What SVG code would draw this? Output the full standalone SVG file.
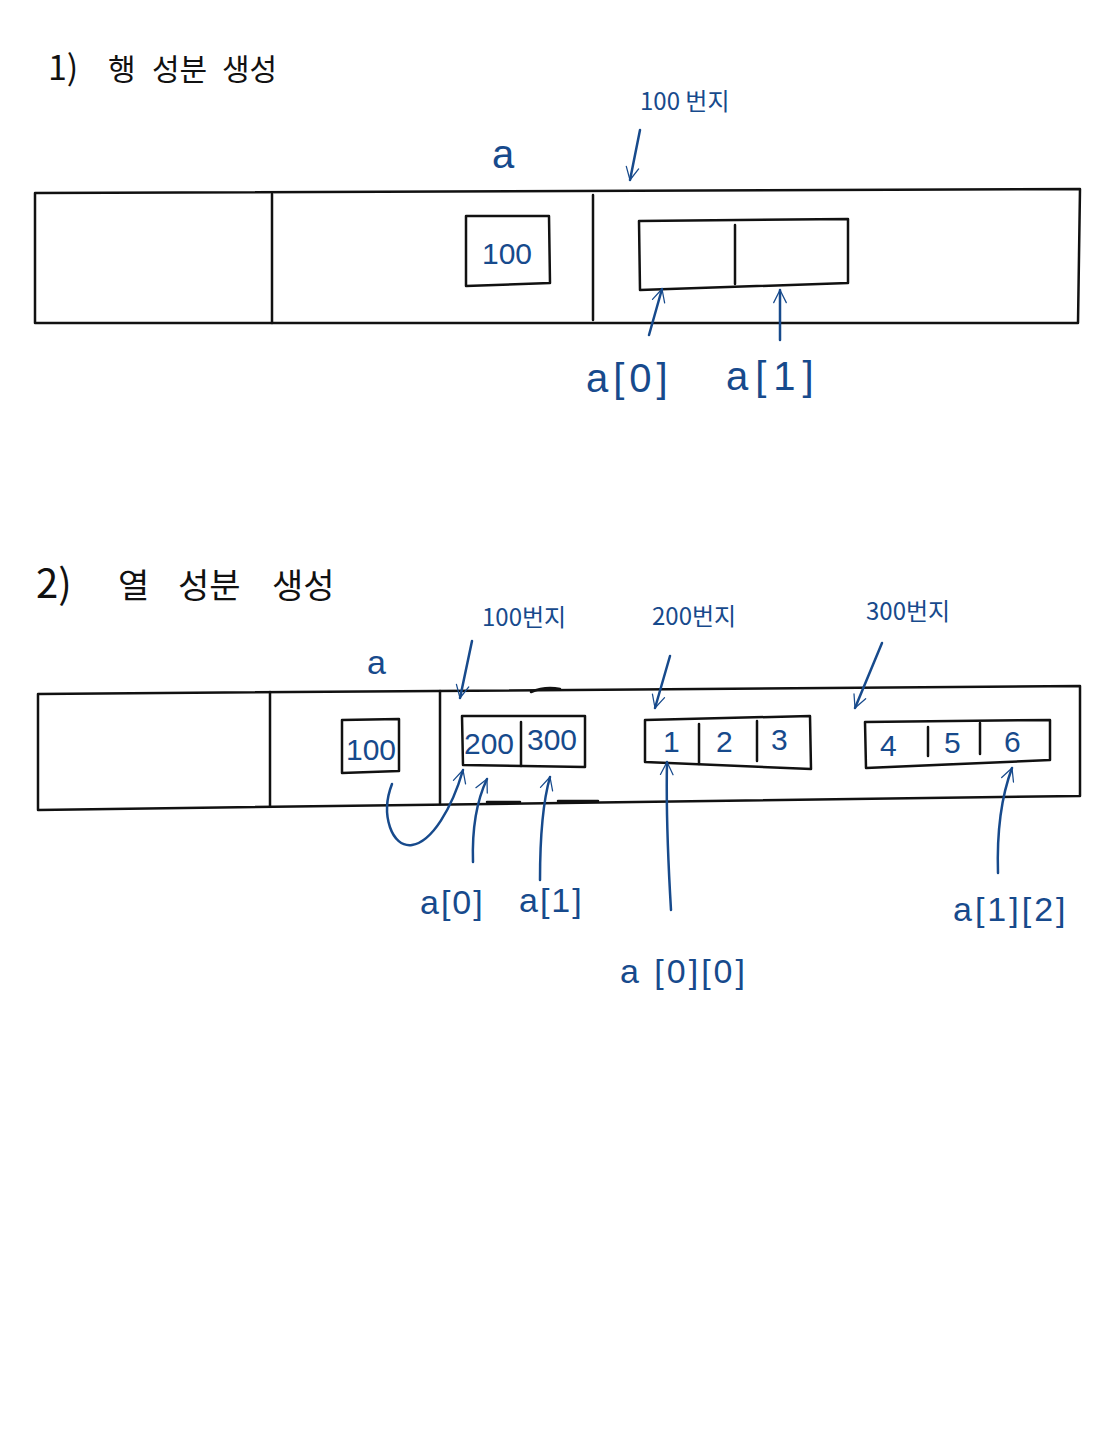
<svg xmlns="http://www.w3.org/2000/svg" width="1115" height="1440" viewBox="0 0 1115 1440">
<style>
.box{fill:none;stroke:#111;stroke-width:2.5;stroke-linejoin:round}
.ln{fill:none;stroke:#111;stroke-width:2.5;stroke-linecap:round}
.title{font-family:"Noto Sans CJK KR","Noto Sans",sans-serif;fill:#111}
.b{font-family:"Liberation Sans","Noto Sans CJK KR",sans-serif;fill:#174a8c}
.bk{font-family:"Noto Sans CJK KR","Liberation Sans",sans-serif;fill:#174a8c}
.arr{fill:none;stroke:#174a8c;stroke-width:2.5;stroke-linecap:round;marker-end:url(#ah)}
.val{font-family:"Liberation Sans",sans-serif;font-size:30px;fill:#174a8c}
</style>
<defs>
<marker id="ah" viewBox="0 0 20 20" refX="18" refY="10" markerWidth="18" markerHeight="18" orient="auto" markerUnits="userSpaceOnUse">
<path d="M4,3 L18,10 L4,17" fill="none" stroke="#174a8c" stroke-width="1.4" stroke-linecap="round" stroke-linejoin="round"/>
</marker>
</defs>
<rect width="1115" height="1440" fill="#fff"/>

<g id="title1"><text class="title" y="80" font-size="30"><tspan x="48" font-size="34">1)</tspan><tspan x="108">행</tspan><tspan x="152">성분</tspan><tspan x="222">생성</tspan></text></g>

<g id="memory1">
<polygon class="box" points="35,193 1080,189 1078,323 35,323"/>
<line class="ln" x1="272" y1="194" x2="272" y2="323"/>
<line class="ln" x1="593" y1="195" x2="593" y2="320"/>
</g>
<g id="var-a1">
<text class="b" x="492" y="168" font-size="40">a</text>
<polygon class="box" points="466,216 549,216 550,283 466,286"/>
<text class="val" x="482" y="264" font-size="34">100</text>
</g>
<g id="row-array1">
<polygon class="box" points="639,221 848,219 848,283 640,290"/>
<line class="ln" x1="735" y1="225" x2="735" y2="284"/>
<text class="bk" x="640" y="110" font-size="24">100 번지</text>
</g>
<g id="label-a0-1"><text class="b" x="586" y="392" font-size="40" letter-spacing="5">a[0]</text></g>
<g id="label-a1-1"><text class="b" x="726" y="390" font-size="40" letter-spacing="7">a[1]</text></g>

<g id="title2"><text class="title" y="598" font-size="34"><tspan x="36" font-size="40">2)</tspan><tspan x="118">열</tspan><tspan x="178">성분</tspan><tspan x="272">생성</tspan></text></g>

<g id="memory2">
<polygon class="box" points="38,694 1080,686 1080,796 38,810"/>
<line class="ln" x1="270" y1="692" x2="270" y2="806"/>
<line class="ln" x1="440" y1="691" x2="440" y2="804"/>
<path class="ln" d="M531,692 Q545,686 560,689"/>
<line class="ln" x1="487" y1="802" x2="520" y2="802" stroke-width="4"/>
<line class="ln" x1="558" y1="801" x2="598" y2="801" stroke-width="4"/>
</g>
<g id="var-a2">
<text class="b" x="367" y="674" font-size="34">a</text>
<polygon class="box" points="342,720 399,719 399,771 342,773"/>
<text class="val" x="346" y="760" font-size="28">100</text>
</g>
<g id="row-array2">
<polygon class="box" points="462,716 585,716 585,767 463,765"/>
<line class="ln" x1="521" y1="722" x2="521" y2="766"/>
<text class="val" x="464" y="754" font-size="26">200</text>
<text class="val" x="527" y="750" font-size="26">300</text>
<text class="bk" x="482" y="626" font-size="24">100번지</text>
</g>
<g id="col-array0">
<polygon class="box" points="645,720 810,716 811,769 645,762"/>
<line class="ln" x1="699" y1="724" x2="699" y2="764"/>
<line class="ln" x1="757" y1="721" x2="757" y2="761"/>
<text class="val" x="663" y="752">1</text>
<text class="val" x="716" y="752">2</text>
<text class="val" x="771" y="750">3</text>
<text class="bk" x="652" y="625" font-size="24">200번지</text>
</g>
<g id="col-array1">
<polygon class="box" points="865,722 1050,720 1050,760 866,768"/>
<line class="ln" x1="928" y1="727" x2="928" y2="756"/>
<line class="ln" x1="980" y1="723" x2="980" y2="754"/>
<text class="val" x="880" y="756">4</text>
<text class="val" x="944" y="753">5</text>
<text class="val" x="1004" y="752">6</text>
<text class="bk" x="866" y="620" font-size="24">300번지</text>
</g>
<g id="label-a0-2"><text class="b" x="420" y="914" font-size="34" letter-spacing="2">a[0]</text></g>
<g id="label-a1-2"><text class="b" x="519" y="912" font-size="34" letter-spacing="2">a[1]</text></g>
<g id="label-a00"><text class="b" x="620" y="983" font-size="34" letter-spacing="3">a [0][0]</text></g>
<g id="label-a12"><text class="b" x="953" y="921" font-size="34" letter-spacing="3">a[1][2]</text></g>

<g id="connectors">
<path class="arr" d="M640,130 L630,180"/>
<path class="arr" d="M649,335 L662,289"/>
<path class="arr" d="M780,340 L780,290"/>
<path class="arr" d="M472,641 L460,698"/>
<path class="arr" d="M670,656 L655,708"/>
<path class="arr" d="M882,643 L855,708"/>
<path class="arr" d="M392,784 C380,815 392,848 412,845 C432,842 452,808 463,770"/>
<path class="arr" d="M473,862 C472,830 477,800 487,779"/>
<path class="arr" d="M540,880 C540,840 542,805 550,777"/>
<path class="arr" d="M671,910 C668,860 666,810 667,762"/>
<path class="arr" d="M998,873 C997,840 1000,800 1012,768"/>
</g>
</svg>
